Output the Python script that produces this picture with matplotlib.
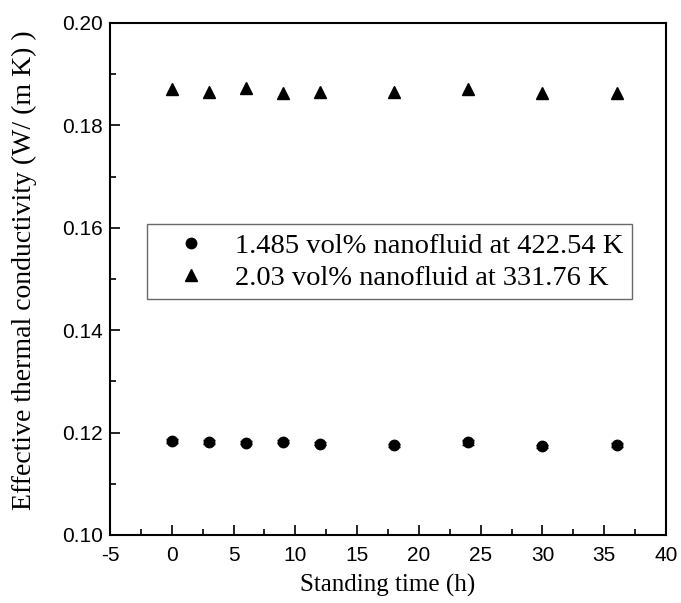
import matplotlib.pyplot as plt
from matplotlib.ticker import MultipleLocator

# standing time (h)
time_h = [0, 3, 6, 9, 12, 18, 24, 30, 36]
# 1.485 vol% nanofluid at 422.54 K
k_low = [0.1184, 0.1181, 0.1180, 0.1182, 0.1178, 0.1175, 0.1181, 0.1173, 0.1176]
err_low = [0.0004, 0.0004, 0.0003, 0.0003, 0.0003, 0.0003, 0.0005, 0.0003, 0.0004]
# 2.03 vol% nanofluid at 331.76 K
k_high = [0.1871, 0.1866, 0.1873, 0.1863, 0.1865, 0.1866, 0.1871, 0.1863, 0.1863]
err_high = [0.0004, 0.0004, 0.0004, 0.0004, 0.0004, 0.0004, 0.0004, 0.0004, 0.0004]

serif = ['Liberation Serif', 'DejaVu Serif']
sans = ['Liberation Sans', 'DejaVu Sans']
plt.rcParams['axes.unicode_minus'] = False

fig = plt.figure(figsize=(6.81, 6.03), dpi=100)
ax = fig.add_axes([0.1615, 0.1128, 0.8165, 0.8491])

# error bars first, markers on top
ax.errorbar(time_h, k_low, yerr=err_low, fmt='none', ecolor='black',
            capsize=4, elinewidth=1, capthick=1)
ax.errorbar(time_h, k_high, yerr=err_high, fmt='none', ecolor='black',
            capsize=0, elinewidth=1)
ax.plot(time_h, k_low, 'o', color='black', ms=7.5,
        label='1.485 vol% nanofluid at 422.54 K')
ax.plot(time_h, k_high, '^', color='black', ms=8.5,
        label='2.03 vol% nanofluid at 331.76 K')

ax.set_xlim(-5, 40)
ax.set_ylim(0.10, 0.20)
ax.xaxis.set_major_locator(MultipleLocator(5))
ax.xaxis.set_minor_locator(MultipleLocator(2.5))
ax.yaxis.set_major_locator(MultipleLocator(0.02))
ax.yaxis.set_minor_locator(MultipleLocator(0.01))
ax.yaxis.set_major_formatter(plt.FormatStrFormatter('%.2f'))
ax.tick_params(which='both', direction='in', top=False, right=False)
ax.tick_params(which='major', length=7, width=1.2, labelsize=15, pad=5)
ax.tick_params(axis='x', which='major', pad=8)
ax.tick_params(which='minor', length=4, width=1.2)
for lab in ax.get_xticklabels() + ax.get_yticklabels():
    lab.set_family(sans)
for s in ax.spines.values():
    s.set_linewidth(1.5)

ax.set_xlabel('Standing time (h)', family=serif, fontsize=18, labelpad=6)
ax.set_ylabel('Effective thermal conductivity (W/ (m K) )', family=serif,
              fontsize=20)
ax.yaxis.set_label_coords(-0.131, 0.518)

leg = ax.legend(loc='upper left', bbox_to_anchor=(0.0665, 0.607),
                borderaxespad=0, prop={'family': serif, 'size': 20.5},
                frameon=True, fancybox=False, edgecolor='#444444',
                handlelength=2.5, handletextpad=0.3, borderpad=0.3,
                labelspacing=0.22)
leg.get_frame().set_linewidth(1.0)

fig.savefig('out.png', dpi=100)
